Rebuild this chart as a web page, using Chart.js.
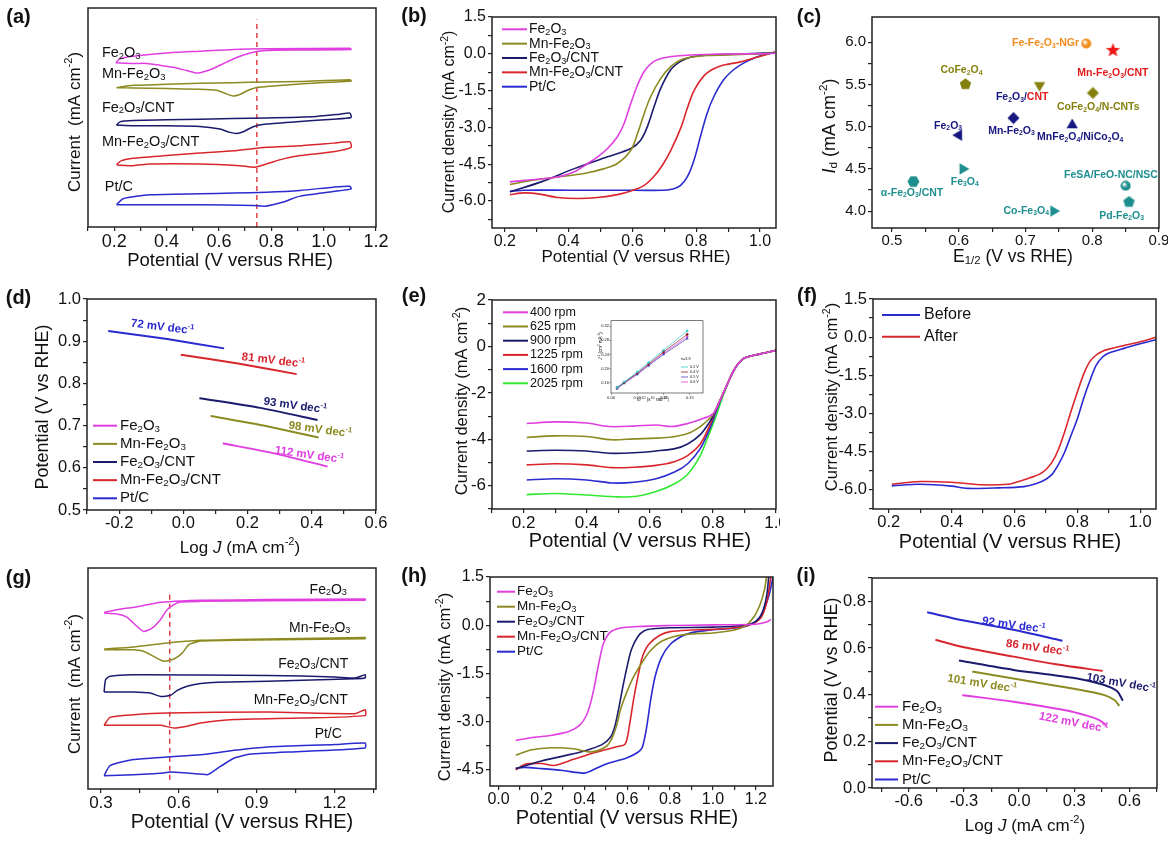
<!DOCTYPE html>
<html>
<head>
<meta charset="utf-8">
<script src="https://cdn.jsdelivr.net/npm/chart.js@4.4.1/dist/chart.umd.min.js"></script>
<style>
  html, body { margin: 0; background: #fff; }
  #fig { position: relative; width: 1168px; height: 841px; overflow: hidden; background: #fff; }
</style>
</head>
<body>
<div id="fig"></div>
<script>
// ---------- data ----------
const names5 = ['Fe_2O_3', 'Mn-Fe_2O_3', 'Fe_2O_3/CNT', 'Mn-Fe_2O_3/CNT', 'Pt/C'];

// (a) CV, arbitrary current units (no y ticks)
const aXTicks = [0.1, 0.2, 0.3, 0.4, 0.5, 0.6, 0.7, 0.8, 0.9, 1.0, 1.1, 1.2];
const aXLabels = ['', '0.2', '', '0.4', '', '0.6', '', '0.8', '', '1.0', '', '1.2'];
const a_Fe2O3 = [[0.206,75.0],[0.222,76.8],[0.273,78.0],[0.4,79.5],[0.527,80.3],[0.655,81.1],[0.782,81.4],[1.1,81.6],[1.105,81.0],[0.91,80.8],[0.782,80.6],[0.731,79.8],[0.68,78.0],[0.629,75.3],[0.578,72.4],[0.52,70.3],[0.476,71.5],[0.425,72.9],[0.374,73.9],[0.324,74.7],[0.273,74.7],[0.206,75.0]];
const a_MnFe2O3 = [[0.209,63.6],[0.273,64.7],[0.4,65.2],[0.527,65.6],[0.655,65.9],[0.782,66.2],[0.91,66.4],[1.1,67.2],[1.105,66.7],[0.91,65.3],[0.782,64.1],[0.74,63.6],[0.71,62.3],[0.68,60.5],[0.655,59.8],[0.629,60.8],[0.591,62.4],[0.527,62.9],[0.4,63.2],[0.273,63.5],[0.209,63.6]];
const a_Fe2O3CNT = [[0.209,46.5],[0.222,48.0],[0.273,48.6],[0.527,49.2],[0.782,49.8],[0.973,50.5],[1.062,51.5],[1.1,52.0],[1.105,50.0],[1.037,49.2],[0.91,48.2],[0.782,47.0],[0.731,45.8],[0.693,43.5],[0.667,42.7],[0.642,43.2],[0.604,44.7],[0.527,45.9],[0.4,46.2],[0.273,46.2],[0.209,46.5]];
const a_MnFe2O3CNT = [[0.209,28.5],[0.228,30.3],[0.273,31.4],[0.4,32.6],[0.527,33.8],[0.655,34.8],[0.782,36.4],[0.91,37.1],[1.037,38.3],[1.1,38.9],[1.105,36.4],[1.037,34.4],[0.91,32.6],[0.846,31.1],[0.782,28.8],[0.737,27.3],[0.68,28.0],[0.527,28.8],[0.336,28.8],[0.273,28.0],[0.209,28.3]];
const a_PtC = [[0.209,10.2],[0.234,12.9],[0.336,14.7],[0.527,15.2],[0.655,15.5],[0.782,15.9],[0.91,16.7],[1.037,18.2],[1.1,18.6],[1.105,17.4],[1.037,16.2],[0.91,14.1],[0.846,11.4],[0.776,9.5],[0.731,9.8],[0.527,10.2],[0.336,10.2],[0.209,10.2]];
const aPeak = 0.745;

// (b) LSV
const bXTicks = [0.2, 0.3, 0.4, 0.5, 0.6, 0.7, 0.8, 0.9, 1.0];
const bXLabels = ['0.2', '', '0.4', '', '0.6', '', '0.8', '', '1.0'];
const bYTicks = [1.5, 0.75, 0, -0.75, -1.5, -2.25, -3, -3.75, -4.5, -5.25, -6, -6.75];
const bYLabels = ['1.5', '', '0.0', '', '-1.5', '', '-3.0', '', '-4.5', '', '-6.0', ''];
const b_Fe2O3 = [[0.216,-5.22],[0.262,-5.16],[0.366,-5.02],[0.418,-4.81],[0.46,-4.47],[0.491,-4.2],[0.522,-3.86],[0.553,-3.38],[0.574,-2.84],[0.595,-2.02],[0.616,-1.27],[0.637,-0.72],[0.668,-0.31],[0.709,-0.14],[0.782,-0.05],[0.886,-0.01],[0.99,0.0],[1.047,0.02]];
const b_MnFe2O3 = [[0.216,-5.33],[0.283,-5.16],[0.366,-5.02],[0.449,-4.88],[0.512,-4.68],[0.553,-4.47],[0.595,-3.93],[0.616,-3.25],[0.637,-2.43],[0.657,-1.75],[0.689,-1.0],[0.72,-0.52],[0.751,-0.25],[0.782,-0.14],[0.834,-0.07],[0.938,-0.03],[1.047,0.03]];
const b_Fe2O3CNT = [[0.216,-5.63],[0.314,-5.22],[0.418,-4.68],[0.522,-4.2],[0.595,-3.86],[0.626,-3.52],[0.647,-2.97],[0.668,-2.15],[0.689,-1.4],[0.72,-0.65],[0.751,-0.31],[0.782,-0.14],[0.834,-0.05],[0.938,-0.01],[1.047,0.05]];
const b_MnFe2O3CNT = [[0.216,-5.74],[0.262,-5.67],[0.314,-5.73],[0.366,-5.86],[0.429,-5.9],[0.491,-5.86],[0.553,-5.74],[0.595,-5.59],[0.637,-5.36],[0.668,-4.99],[0.694,-4.54],[0.72,-3.95],[0.751,-3.04],[0.772,-2.22],[0.793,-1.5],[0.824,-0.9],[0.855,-0.61],[0.886,-0.46],[0.938,-0.33],[0.99,-0.14],[1.047,0.07]];
const b_PtC = [[0.216,-5.6],[0.262,-5.56],[0.4,-5.56],[0.55,-5.56],[0.699,-5.56],[0.73,-5.5],[0.751,-5.36],[0.772,-5.02],[0.793,-4.34],[0.813,-3.38],[0.834,-2.43],[0.855,-1.75],[0.886,-1.06],[0.917,-0.65],[0.948,-0.38],[0.98,-0.18],[1.011,-0.04],[1.047,0.05]];

// (c) comparison scatter
const cXTicks = [0.5, 0.55, 0.6, 0.65, 0.7, 0.75, 0.8, 0.85, 0.9];
const cXLabels = ['0.5', '', '0.6', '', '0.7', '', '0.8', '', '0.9'];
const cYTicks = [4.0, 4.25, 4.5, 4.75, 5.0, 5.25, 5.5, 5.75, 6.0];
const cYLabels = ['4.0', '', '4.5', '', '5.0', '', '5.5', '', '6.0'];
const cNames = ['Fe-Fe_2O_3-NGr', 'Mn-Fe_2O_3/CNT', 'CoFe_2O_4', 'Fe_2O_3/CNT', 'CoFe_2O_4/N-CNTs', 'Mn-Fe_2O_3', 'Fe_2O_3', 'MnFe_2O_4/NiCo_2O_4', 'Fe_3O_4', 'α-Fe_2O_3/CNT', 'FeSA/FeO-NC/NSC', 'Pd-Fe_2O_3', 'Co-Fe_3O_4'];
const cE12 = [0.791, 0.831, 0.61, 0.721, 0.801, 0.682, 0.60, 0.77, 0.606, 0.532, 0.85, 0.855, 0.742];
const cId = [5.985, 5.905, 5.503, 5.49, 5.40, 5.103, 4.90, 5.02, 4.50, 4.35, 4.30, 4.108, 4.00];

// (d) Tafel
const dXTicks = [-0.3, -0.2, -0.1, 0, 0.1, 0.2, 0.3, 0.4, 0.5, 0.6];
const dXLabels = ['', '-0.2', '', '0.0', '', '0.2', '', '0.4', '', '0.6'];
const dYTicks = [0.5, 0.55, 0.6, 0.65, 0.7, 0.75, 0.8, 0.85, 0.9, 0.95, 1.0];
const dYLabels = ['0.5', '', '0.6', '', '0.7', '', '0.8', '', '0.9', '', '1.0'];
const d_Fe2O3 = [[0.123,0.658],[0.29,0.633],[0.449,0.603]];
const d_MnFe2O3 = [[0.085,0.723],[0.25,0.7],[0.421,0.672]];
const d_Fe2O3CNT = [[0.05,0.765],[0.24,0.742],[0.418,0.713]];
const d_MnFe2O3CNT = [[-0.008,0.868],[0.17,0.847],[0.353,0.822]];
const d_PtC = [[-0.234,0.924],[-0.05,0.905],[0.127,0.883]];
const dTafel = [112, 98, 93, 81, 72];

// (e) rotating speeds
const eXTicks = [0.1, 0.2, 0.3, 0.4, 0.5, 0.6, 0.7, 0.8, 0.9, 1.0];
const eXLabels = ['', '0.2', '', '0.4', '', '0.6', '', '0.8', '', '1.0'];
const eYTicks = [-7, -6, -5, -4, -3, -2, -1, 0, 1, 2];
const eYLabels = ['', '-6', '', '-4', '', '-2', '', '0', '', '2'];
const eSpeeds = ['400 rpm', '625 rpm', '900 rpm', '1225 rpm', '1600 rpm', '2025 rpm'];
const e_400 = [[0.21,-3.32],[0.3,-3.25],[0.4,-3.3],[0.47,-3.45],[0.55,-3.43],[0.62,-3.38],[0.67,-3.45],[0.72,-3.32],[0.76,-3.15],[0.8,-2.9],[0.82,-2.4],[0.84,-1.8],[0.86,-1.2],[0.88,-0.75],[0.9,-0.5],[0.95,-0.32],[1.0,-0.17]];
const e_625 = [[0.21,-3.92],[0.3,-3.85],[0.4,-3.88],[0.48,-4.02],[0.55,-3.98],[0.62,-3.95],[0.67,-3.9],[0.72,-3.75],[0.76,-3.45],[0.79,-3.1],[0.8,-2.95],[0.82,-2.4],[0.84,-1.8],[0.86,-1.2],[0.88,-0.75],[0.9,-0.5],[0.95,-0.32],[1.0,-0.17]];
const e_900 = [[0.21,-4.5],[0.3,-4.47],[0.4,-4.5],[0.47,-4.6],[0.55,-4.58],[0.62,-4.5],[0.68,-4.4],[0.72,-4.2],[0.76,-3.8],[0.79,-3.25],[0.8,-3.0],[0.82,-2.4],[0.84,-1.8],[0.86,-1.2],[0.88,-0.75],[0.9,-0.5],[0.95,-0.32],[1.0,-0.17]];
const e_1225 = [[0.21,-5.1],[0.3,-5.05],[0.4,-5.1],[0.48,-5.22],[0.55,-5.2],[0.62,-5.12],[0.68,-4.95],[0.72,-4.7],[0.76,-4.2],[0.79,-3.4],[0.8,-3.05],[0.82,-2.4],[0.84,-1.8],[0.86,-1.2],[0.88,-0.75],[0.9,-0.5],[0.95,-0.32],[1.0,-0.17]];
const e_1600 = [[0.21,-5.75],[0.3,-5.7],[0.4,-5.75],[0.48,-5.88],[0.55,-5.85],[0.62,-5.7],[0.68,-5.4],[0.72,-5.05],[0.76,-4.4],[0.79,-3.55],[0.805,-3.0],[0.82,-2.45],[0.84,-1.8],[0.86,-1.2],[0.88,-0.75],[0.9,-0.5],[0.95,-0.32],[1.0,-0.17]];
const e_2025 = [[0.21,-6.38],[0.3,-6.33],[0.4,-6.4],[0.5,-6.48],[0.56,-6.45],[0.62,-6.25],[0.68,-5.9],[0.72,-5.5],[0.76,-4.7],[0.79,-3.7],[0.81,-3.0],[0.825,-2.4],[0.84,-1.85],[0.86,-1.2],[0.88,-0.75],[0.9,-0.5],[0.95,-0.32],[1.0,-0.17]];
// (e) inset: Koutecky-Levich
const insX = [0.067, 0.075, 0.09, 0.103, 0.12, 0.147];
const ins_02 = [0.146, 0.162, 0.19, 0.217, 0.252, 0.307];
const ins_04 = [0.146, 0.16, 0.187, 0.213, 0.247, 0.297];
const ins_05 = [0.142, 0.158, 0.183, 0.208, 0.24, 0.285];
const ins_06 = [0.144, 0.159, 0.185, 0.21, 0.243, 0.29];
const insNames = ['0.2 V', '0.4 V', '0.5 V', '0.6 V'];

// (f) stability
const fYTicks = [1.5, 0.75, 0, -0.75, -1.5, -2.25, -3, -3.75, -4.5, -5.25, -6, -6.75];
const f_before = [[0.21,-5.84],[0.3,-5.78],[0.4,-5.85],[0.45,-5.94],[0.55,-5.92],[0.63,-5.87],[0.67,-5.75],[0.7,-5.58],[0.72,-5.38],[0.74,-5.0],[0.76,-4.5],[0.78,-3.85],[0.8,-3.2],[0.82,-2.4],[0.84,-1.7],[0.86,-1.1],[0.88,-0.78],[0.9,-0.62],[0.95,-0.43],[1.0,-0.26],[1.05,-0.1]];
const f_after = [[0.21,-5.78],[0.3,-5.67],[0.4,-5.7],[0.5,-5.8],[0.58,-5.78],[0.6,-5.72],[0.65,-5.52],[0.68,-5.38],[0.7,-5.2],[0.72,-4.9],[0.74,-4.4],[0.76,-3.7],[0.78,-2.9],[0.8,-2.15],[0.82,-1.45],[0.84,-0.95],[0.86,-0.7],[0.88,-0.55],[0.9,-0.47],[0.95,-0.32],[1.0,-0.18],[1.05,0.0]];

// (g) CV, second electrolyte
const gXTicks = [0.3, 0.45, 0.6, 0.75, 0.9, 1.05, 1.2, 1.35];
const gXLabels = ['0.3', '', '0.6', '', '0.9', '', '1.2', ''];
const g_Fe2O3 = [[0.312,79.9],[0.361,81.1],[0.451,82.7],[0.529,84.5],[0.581,84.9],[0.684,85.4],[0.943,85.7],[1.318,86.0],[1.318,85.4],[0.943,85.2],[0.684,84.9],[0.606,84.6],[0.581,83.4],[0.555,81.1],[0.529,76.6],[0.497,72.8],[0.464,71.3],[0.425,75.1],[0.4,77.8],[0.361,79.2],[0.312,79.6]];
const g_MnFe2O3 = [[0.312,63.3],[0.425,64.3],[0.555,66.1],[0.684,67.3],[0.814,67.6],[1.318,68.6],[1.318,68.0],[0.814,67.3],[0.684,67.0],[0.671,66.6],[0.639,65.3],[0.613,61.5],[0.581,58.8],[0.542,57.8],[0.503,60.0],[0.464,62.3],[0.425,63.0],[0.312,63.0]];
const g_Fe2O3CNT = [[0.312,43.9],[0.318,49.5],[0.335,51.0],[0.425,51.7],[0.684,51.6],[0.943,51.4],[1.202,50.7],[1.28,50.2],[1.318,51.7],[1.318,50.2],[1.28,49.9],[0.943,48.7],[0.749,48.3],[0.684,47.7],[0.632,46.5],[0.594,44.6],[0.568,42.4],[0.529,41.9],[0.49,43.4],[0.425,43.9],[0.312,43.9]];
const g_MnFe2O3CNT = [[0.312,28.8],[0.335,32.4],[0.425,33.6],[0.555,34.4],[0.943,34.8],[1.28,34.1],[1.318,35.9],[1.318,33.2],[1.072,32.1],[0.814,31.4],[0.684,29.9],[0.632,28.4],[0.581,27.6],[0.529,28.8],[0.425,28.8],[0.312,28.8]];
const g_PtC = [[0.312,6.0],[0.335,10.6],[0.425,13.3],[0.555,14.5],[0.684,15.5],[0.814,17.5],[0.943,19.0],[1.202,20.1],[1.318,20.8],[1.318,18.6],[1.072,17.0],[0.878,15.8],[0.814,14.0],[0.762,10.3],[0.723,7.2],[0.71,6.5],[0.632,7.2],[0.568,7.7],[0.529,7.1],[0.425,6.5],[0.312,6.0]];
const gPeak = 0.565;

// (h) LSV incl. OER onset
const hXTicks = [0, 0.1, 0.2, 0.3, 0.4, 0.5, 0.6, 0.7, 0.8, 0.9, 1.0, 1.1, 1.2];
const hXLabels = ['0.0', '', '0.2', '', '0.4', '', '0.6', '', '0.8', '', '1.0', '', '1.2'];
const hYTicks = [1.5, 0.75, 0, -0.75, -1.5, -2.25, -3, -3.75, -4.5];
const hYLabels = ['1.5', '', '0.0', '', '-1.5', '', '-3.0', '', '-4.5'];
const h_Fe2O3 = [[0.08,-3.58],[0.15,-3.5],[0.25,-3.42],[0.33,-3.3],[0.38,-3.1],[0.41,-2.8],[0.43,-2.4],[0.45,-1.8],[0.47,-1.1],[0.49,-0.55],[0.52,-0.22],[0.56,-0.1],[0.65,-0.04],[0.8,-0.01],[1.0,0.01],[1.2,0.03],[1.25,0.1],[1.27,0.18]];
const h_MnFe2O3 = [[0.08,-4.04],[0.15,-3.88],[0.25,-3.81],[0.35,-3.84],[0.43,-3.94],[0.5,-3.78],[0.53,-3.5],[0.55,-3.13],[0.57,-2.6],[0.6,-2.05],[0.63,-1.6],[0.67,-1.15],[0.71,-0.78],[0.76,-0.5],[0.82,-0.35],[0.9,-0.27],[1.0,-0.24],[1.1,-0.15],[1.15,-0.02],[1.19,0.25],[1.22,0.65],[1.24,1.1],[1.25,1.5]];
const h_Fe2O3CNT = [[0.08,-4.46],[0.2,-4.22],[0.3,-4.07],[0.4,-3.91],[0.48,-3.72],[0.52,-3.5],[0.54,-3.2],[0.56,-2.6],[0.58,-1.9],[0.6,-1.27],[0.62,-0.75],[0.65,-0.35],[0.68,-0.17],[0.72,-0.11],[0.8,-0.08],[1.0,-0.06],[1.15,0.0],[1.2,0.12],[1.23,0.4],[1.25,0.9],[1.26,1.5]];
const h_MnFe2O3CNT = [[0.08,-4.5],[0.12,-4.33],[0.2,-4.3],[0.26,-4.36],[0.35,-4.17],[0.45,-3.96],[0.55,-3.78],[0.59,-3.7],[0.61,-3.13],[0.63,-2.3],[0.65,-1.6],[0.67,-1.0],[0.7,-0.6],[0.75,-0.32],[0.8,-0.2],[0.9,-0.15],[1.0,-0.13],[1.15,-0.03],[1.22,0.2],[1.25,0.7],[1.27,1.5]];
const h_PtC = [[0.08,-4.45],[0.12,-4.42],[0.2,-4.46],[0.3,-4.52],[0.4,-4.6],[0.43,-4.53],[0.5,-4.32],[0.6,-4.12],[0.65,-3.95],[0.67,-3.8],[0.69,-3.2],[0.71,-2.3],[0.73,-1.6],[0.76,-1.0],[0.8,-0.6],[0.85,-0.36],[0.9,-0.23],[1.0,-0.14],[1.15,-0.04],[1.22,0.25],[1.26,0.9],[1.28,1.5]];

// (i) Tafel
const iXTicks = [-0.75, -0.6, -0.45, -0.3, -0.15, 0, 0.15, 0.3, 0.45, 0.6, 0.75];
const iXLabels = ['', '-0.6', '', '-0.3', '', '0.0', '', '0.3', '', '0.6', ''];
const iYTicks = [0, 0.1, 0.2, 0.3, 0.4, 0.5, 0.6, 0.7, 0.8, 0.9];
const iYLabels = ['0.0', '', '0.2', '', '0.4', '', '0.6', '', '0.8', ''];
const i_Fe2O3 = [[-0.309,0.398],[-0.03,0.37],[0.245,0.334],[0.373,0.309],[0.436,0.291],[0.473,0.269]];
const i_MnFe2O3 = [[-0.255,0.499],[0.064,0.456],[0.336,0.42],[0.464,0.398],[0.518,0.377],[0.545,0.352]];
const i_Fe2O3CNT = [[-0.327,0.546],[-0.03,0.506],[0.2,0.482],[0.336,0.466],[0.45,0.445],[0.5,0.43],[0.536,0.413],[0.564,0.374]];
const i_MnFe2O3CNT = [[-0.455,0.635],[-0.3,0.603],[-0.03,0.563],[0.2,0.53],[0.455,0.502]];
const i_PtC = [[-0.5,0.753],[-0.3,0.718],[-0.03,0.678],[0.236,0.631]];
const iTafel = [122, 101, 103, 86, 92];

// ---------- styling ----------
const FONT = '"Liberation Sans", Arial, Helvetica, sans-serif';
const MAG = '#e03ee0', OLV = '#8c8a20', NAV = '#1b1b6e', RED = '#d9262c', BLU = '#2a2ad0', GRN = '#30e830';
const C5 = [MAG, OLV, NAV, RED, BLU];
const TEAL = '#1e8e8e', OLVC = '#85810f', NAVC = '#17177f';

// tiny rich-text: _2 / _{..} subscript, ^{..} superscript, ~{..} italic
function parseRich(s) {
  const out = [], re = /_\{([^}]*)\}|\^\{([^}]*)\}|~\{([^}]*)\}|_(\d)|\^(\d)/g;
  let last = 0, m;
  while ((m = re.exec(s))) {
    if (m.index > last) out.push({ t: s.slice(last, m.index), m: 'n' });
    if (m[1] !== undefined) out.push({ t: m[1], m: 'sub' });
    else if (m[2] !== undefined) out.push({ t: m[2], m: 'sup' });
    else if (m[3] !== undefined) out.push({ t: m[3], m: 'it' });
    else if (m[4] !== undefined) out.push({ t: m[4], m: 'sub' });
    else out.push({ t: m[5], m: 'sup' });
    last = re.lastIndex;
  }
  if (last < s.length) out.push({ t: s.slice(last), m: 'n' });
  return out;
}
function fontFor(p, size, weight) {
  const small = p.m === 'sub' || p.m === 'sup';
  return (p.m === 'it' ? 'italic ' : '') + weight + ' ' + (small ? size * 0.65 : size) + 'px ' + FONT;
}
function richWidth(ctx, s, size, weight) {
  let w = 0;
  for (const p of parseRich(s)) { ctx.font = fontFor(p, size, weight); w += ctx.measureText(p.t).width; }
  return w;
}
function drawRich(ctx, s, x, y, o) {
  const size = o.size || 16, weight = o.weight || 'normal';
  ctx.save();
  ctx.translate(x, y);
  if (o.rot) ctx.rotate(o.rot * Math.PI / 180);
  const w = richWidth(ctx, s, size, weight);
  let cx = o.align === 'left' ? 0 : o.align === 'right' ? -w : -w / 2;
  ctx.textBaseline = 'middle';
  ctx.textAlign = 'left';
  ctx.fillStyle = o.color || '#111';
  for (const p of parseRich(s)) {
    ctx.font = fontFor(p, size, weight);
    const dy = p.m === 'sub' ? size * 0.22 : p.m === 'sup' ? -size * 0.33 : 0;
    ctx.fillText(p.t, cx, dy);
    cx += ctx.measureText(p.t).width;
  }
  ctx.restore();
  return w;
}

// filled marker shapes for panel (c)
function marker(kind, color, size) {
  const c = document.createElement('canvas');
  c.width = c.height = size;
  const g = c.getContext('2d'), r = size / 2;
  g.beginPath();
  if (kind === 'sphere') {
    const grd = g.createRadialGradient(r * 0.7, r * 0.7, 0.5, r, r, r);
    grd.addColorStop(0, '#ffffff');
    grd.addColorStop(0.5, color);
    grd.addColorStop(1, color);
    g.fillStyle = grd;
    g.arc(r, r, r - 0.5, 0, Math.PI * 2);
  } else if (kind === 'star') {
    for (let i = 0; i < 10; i++) {
      const rr = i % 2 ? r * 0.42 : r, a = -Math.PI / 2 + i * Math.PI / 5;
      g.lineTo(r + rr * Math.cos(a), r + rr * Math.sin(a));
    }
    g.fillStyle = color;
  } else {
    const [n, a0] = { pent: [5, -90], hex: [6, 0], diamond: [4, -90], up: [3, -90], down: [3, 90], left: [3, 180], right: [3, 0] }[kind];
    for (let i = 0; i < n; i++) {
      const a = (a0 + i * 360 / n) * Math.PI / 180;
      g.lineTo(r + (r - 0.5) * Math.cos(a), r + (r - 0.5) * Math.sin(a));
    }
    g.fillStyle = color;
  }
  g.closePath();
  g.fill();
  return c;
}

function line(pts, color, extra) {
  return Object.assign({
    data: pts.map(([x, y]) => ({ x, y })),
    borderColor: color, backgroundColor: color,
    borderWidth: 1.6, pointRadius: 0, tension: 0.3, fill: false
  }, extra || {});
}
const xy = (xs, ys) => xs.map((x, i) => [x, ys[i]]);

function axisOpts(dir, a, size, p) {
  return {
    type: 'linear', min: a.min, max: a.max,
    afterBuildTicks: s => { s.ticks = a.ticks.map(v => ({ value: v })); },
    afterFit: s => {
      if (dir === 'x') s.height = size; else s.width = size;
      s.paddingLeft = s.paddingRight = s.paddingTop = s.paddingBottom = 0;
    },
    ticks: {
      display: !!a.labels, autoSkip: false, maxRotation: 0, minRotation: 0,
      padding: dir === 'x' ? (p.xPad ?? 0) : (p.yPad ?? 2),
      color: '#111', font: { family: FONT, size: p.tickFont || 16 },
      callback: (v, i) => a.labels ? a.labels[i] : ''
    },
    grid: {
      display: a.ticks.length > 0, drawOnChartArea: false, drawTicks: true,
      tickLength: p.tickLen || 4, color: '#222', lineWidth: p.tickW || 1.2
    },
    border: { display: false }
  };
}

function decorate(ch, p) {
  const ctx = ch.ctx, ca = ch.chartArea, ox = p.rect[0], oy = p.rect[1];
  const sx = ch.scales.x, sy = ch.scales.y;
  ctx.save();
  ctx.strokeStyle = '#222';
  ctx.lineWidth = p.frameW || 1.5;
  ctx.strokeRect(ca.left, ca.top, ca.right - ca.left, ca.bottom - ca.top);
  if (p.letter) drawRich(ctx, p.letter[0], p.letter[1] - ox, p.letter[2] - oy, { size: 20, weight: 'bold' });
  if (p.xTitle) drawRich(ctx, p.xTitle[0], p.xTitle[1] - ox, p.xTitle[2] - oy, { size: p.xTitle[3] });
  if (p.yTitle) drawRich(ctx, p.yTitle[0], p.yTitle[1] - ox, p.yTitle[2] - oy, { size: p.yTitle[3], rot: -90 });
  const lg = p.legend;
  if (lg) {
    if (lg.head) drawRich(ctx, lg.head, lg.x0 - ox, lg.y0 - lg.dy * 1.6 - oy, { size: lg.size, align: 'left' });
    lg.names.forEach((nm, i) => {
      const y = lg.y0 + i * lg.dy - oy;
      ctx.strokeStyle = lg.colors[i];
      ctx.lineWidth = lg.lw || 2;
      ctx.beginPath(); ctx.moveTo(lg.x0 - ox, y); ctx.lineTo(lg.x1 - ox, y); ctx.stroke();
      drawRich(ctx, nm, lg.tx - ox, y, { size: lg.size, align: 'left' });
    });
  }
  (p.notes || []).forEach(n => {
    const px = sx.getPixelForValue(n.x), py = sy.getPixelForValue(n.y);
    const o = { size: n.size, weight: n.weight || 'normal', rot: n.rot || 0 };
    if (n.parts) {
      let w = 0;
      n.parts.forEach(([t]) => { w += richWidth(ctx, t, n.size, o.weight); });
      let cx = px - w / 2;
      n.parts.forEach(([t, c]) => { cx += drawRich(ctx, t, cx, py, Object.assign({}, o, { color: c, align: 'left' })); });
    } else {
      drawRich(ctx, n.t, px, py, Object.assign(o, { color: n.color, align: n.align || 'center' }));
    }
  });
  ctx.restore();
}

function makePanel(p) {
  const cv = document.createElement('canvas');
  const [L, T, W, H] = p.rect;
  cv.width = W; cv.height = H;
  cv.style.cssText = 'position:absolute;left:' + L + 'px;top:' + T + 'px;width:' + W + 'px;height:' + H + 'px';
  document.getElementById('fig').appendChild(cv);
  const [x0, y0, x1, y1] = p.box;
  return new Chart(cv.getContext('2d'), {
    type: 'line',
    data: { datasets: p.datasets },
    options: {
      responsive: false, animation: false, devicePixelRatio: 1, events: [],
      layout: { padding: { left: 0, top: y0 - T, right: L + W - x1, bottom: 0 } },
      plugins: { legend: { display: false }, tooltip: { enabled: false } },
      scales: {
        x: axisOpts('x', p.x, T + H - y1, p),
        y: axisOpts('y', p.y, x0 - L, p)
      }
    },
    plugins: [{ id: 'deco', afterDraw: ch => decorate(ch, p) }]
  });
}

const cv = { tension: 0.2, borderWidth: 1.5 };
const dash = { tension: 0, borderWidth: 1.3, borderDash: [5, 4] };

// (a)
makePanel({
  rect: [0, 0, 390, 280], box: [88, 8, 376, 227], tickFont: 18,
  x: { min: 0.1, max: 1.2, ticks: aXTicks, labels: aXLabels },
  y: { min: 0, max: 100, ticks: [] },
  datasets: [
    line(a_Fe2O3, MAG, cv), line(a_MnFe2O3, OLV, cv), line(a_Fe2O3CNT, NAV, cv),
    line(a_MnFe2O3CNT, RED, cv), line(a_PtC, BLU, cv),
    line([[aPeak, 0], [aPeak, 94.7]], RED, dash)
  ],
  letter: ['(a)', 18.5, 17],
  xTitle: ['Potential (V versus RHE)', 230, 261, 18.5],
  yTitle: ['Current  (mA cm^{-2})', 75, 122, 17],
  notes: [[0.153, 79.5], [0.153, 69.7], [0.153, 54.5], [0.153, 38.6], [0.164, 18.2]]
    .map(([x, y], i) => ({ t: names5[i], x, y, size: 14.5, align: 'left', color: '#111' }))
});

// (b)
makePanel({
  rect: [390, 0, 390, 280], box: [492, 17, 776, 228], tickFont: 16,
  x: { min: 0.16, max: 1.05, ticks: bXTicks, labels: bXLabels },
  y: { min: -7.1, max: 1.5, ticks: bYTicks, labels: bYLabels },
  datasets: [line(b_Fe2O3, MAG), line(b_MnFe2O3, OLV), line(b_Fe2O3CNT, NAV), line(b_MnFe2O3CNT, RED), line(b_PtC, BLU)],
  letter: ['(b)', 414, 16],
  xTitle: ['Potential (V versus RHE)', 636, 257, 17],
  yTitle: ['Current density (mA cm^{-2})', 450, 122, 16],
  legend: { names: names5, colors: C5, x0: 502, x1: 527, tx: 529, y0: 29.3, dy: 14.35, size: 14 }
});

// (c)
const cMarkers = [['sphere', '#f0901e', 11], ['star', '#ee1818', 15], ['pent', OLVC, 13], ['down', OLVC, 14], ['diamond', OLVC, 13],
  ['diamond', NAVC, 13], ['left', NAVC, 14], ['up', NAVC, 14], ['right', TEAL, 14], ['hex', TEAL, 13], ['sphere', TEAL, 11], ['pent', TEAL, 13], ['right', TEAL, 14]];
const cLabelAt = [[0.73, 5.985], [0.831, 5.63], [0.604, 5.668], [0.695, 5.345], [0.809, 5.227], [0.679, 4.95], [0.584, 5.005],
  [0.782, 4.871], [0.609, 4.345], [0.53, 4.215], [0.828, 4.424], [0.844, 3.939], [0.701, 3.998]];
const cLabelColor = ['#f08a1c', '#e3191c', OLVC, null, OLVC, NAVC, NAVC, NAVC, TEAL, TEAL, TEAL, TEAL, TEAL];
makePanel({
  rect: [780, 0, 388, 280], box: [872, 17, 1159, 228], tickFont: 15,
  x: { min: 0.47, max: 0.9, ticks: cXTicks, labels: cXLabels },
  y: { min: 3.8, max: 6.3, ticks: cYTicks, labels: cYLabels },
  datasets: [{
    data: xy(cE12, cId).map(([x, y]) => ({ x, y })), showLine: false, borderWidth: 0, pointRadius: 7,
    pointStyle: cMarkers.map(([k, c, s]) => marker(k, c, s))
  }],
  letter: ['(c)', 809, 17],
  xTitle: ['E_{1/2} (V vs RHE)', 1013, 257, 17.5],
  yTitle: ['~{I}_{d} (mA cm^{-2})', 830, 126, 18],
  notes: cNames.map((t, i) => i === 3
    ? { parts: [['Fe_2O_3/', NAVC], ['CNT', '#e3191c']], x: cLabelAt[i][0], y: cLabelAt[i][1], size: 10.5, weight: 'bold' }
    : { t, x: cLabelAt[i][0], y: cLabelAt[i][1], size: 10.5, weight: 'bold', color: cLabelColor[i] })
});

// (d)
const dLabelAt = [[0.392, 0.63, 8], [0.426, 0.69, 8], [0.348, 0.747, 8], [0.28, 0.854, 7], [-0.065, 0.933, 7]];
makePanel({
  rect: [0, 280, 390, 280], box: [87, 299, 376, 510], tickFont: 16.5,
  x: { min: -0.3, max: 0.6, ticks: dXTicks, labels: dXLabels },
  y: { min: 0.5, max: 1.0, ticks: dYTicks, labels: dYLabels },
  datasets: [line(d_Fe2O3, MAG, { tension: 0.2, borderWidth: 2 }), line(d_MnFe2O3, OLV, { tension: 0.2, borderWidth: 2 }),
    line(d_Fe2O3CNT, NAV, { tension: 0.2, borderWidth: 2 }), line(d_MnFe2O3CNT, RED, { tension: 0.2, borderWidth: 2 }),
    line(d_PtC, BLU, { tension: 0.2, borderWidth: 2 })],
  letter: ['(d)', 18.5, 298],
  xTitle: ['Log ~{J} (mA cm^{-2})', 240, 548, 17],
  yTitle: ['Potential (V vs RHE)', 43, 407, 18],
  legend: { names: names5, colors: C5, x0: 93, x1: 117, tx: 120, y0: 425.7, dy: 18.15, size: 15 },
  notes: dTafel.map((v, i) => ({ t: v + ' mV dec^{-1}', x: dLabelAt[i][0], y: dLabelAt[i][1], rot: dLabelAt[i][2], size: 11.5, weight: 'bold', color: C5[i] }))
});

// (e)
makePanel({
  rect: [390, 280, 390, 280], box: [492, 300, 776, 509], tickFont: 17,
  x: { min: 0.1, max: 1.0, ticks: eXTicks, labels: eXLabels },
  y: { min: -7, max: 2, ticks: eYTicks, labels: eYLabels },
  datasets: [line(e_400, MAG), line(e_625, OLV), line(e_900, NAV), line(e_1225, RED), line(e_1600, BLU), line(e_2025, GRN)],
  letter: ['(e)', 414, 296],
  xTitle: ['Potential (V versus RHE)', 640, 541, 20],
  yTitle: ['Current density (mA cm^{-2})', 462, 401, 16.5],
  legend: { names: eSpeeds, colors: [MAG, OLV, NAV, RED, BLU, GRN], x0: 503, x1: 528, tx: 530, y0: 312.3, dy: 14.2, size: 12.5 }
});
// (e) inset
const insColors = ['#33cccc', '#8e1f2a', '#4646b4', '#d843d8'];
makePanel({
  rect: [596, 316, 114, 88], box: [611, 319, 703, 393], tickFont: 4, tickLen: 1.5, tickW: 0.5, frameW: 0.6, xPad: 0.5, yPad: 0.5,
  x: { min: 0.06, max: 0.165, ticks: [0.06, 0.09, 0.12, 0.15], labels: ['0.06', '0.09', '0.12', '0.15'] },
  y: { min: 0.13, max: 0.336, ticks: [0.16, 0.2, 0.24, 0.28, 0.32], labels: ['0.16', '0.20', '0.24', '0.28', '0.32'] },
  datasets: [ins_02, ins_04, ins_05, ins_06].map((ys, i) => line(xy(insX, ys), insColors[i],
    { tension: 0, borderWidth: 0.7, pointRadius: 1.1, pointStyle: ['rect', 'circle', 'triangle', 'rectRot'][i] })),
  xTitle: ['ω^{-1/2} (s^{1/2} rad^{-1/2})', 653, 399.5, 4.5],
  yTitle: ['~{J}^{-1} (cm^2 mA^{-1})', 601, 346, 4.5],
  legend: { head: 'n=3.9', names: insNames, colors: insColors, x0: 681, x1: 688, tx: 690, y0: 367, dy: 5, size: 3.8, lw: 0.8 }
});

// (f)
makePanel({
  rect: [780, 280, 388, 280], box: [873, 299, 1156, 509], tickFont: 16.5,
  x: { min: 0.15, max: 1.05, ticks: bXTicks, labels: bXLabels },
  y: { min: -6.75, max: 1.5, ticks: fYTicks, labels: bYLabels },
  datasets: [line(f_before, BLU), line(f_after, RED)],
  letter: ['(f)', 807, 296],
  xTitle: ['Potential (V versus RHE)', 1010, 542, 20],
  yTitle: ['Current density (mA cm^{-2})', 832, 397, 16.5],
  legend: { names: ['Before', 'After'], colors: [BLU, RED], x0: 882, x1: 920, tx: 924, y0: 315, dy: 21.7, size: 16 }
});

// (g)
makePanel({
  rect: [0, 560, 390, 281], box: [88, 568, 376, 789], tickFont: 17,
  x: { min: 0.25, max: 1.36, ticks: gXTicks, labels: gXLabels },
  y: { min: 0, max: 100, ticks: [] },
  datasets: [
    line(g_Fe2O3, MAG, cv), line(g_MnFe2O3, OLV, cv), line(g_Fe2O3CNT, NAV, cv),
    line(g_MnFe2O3CNT, RED, cv), line(g_PtC, BLU, cv),
    line([[gPeak, 4.2], [gPeak, 89.4]], RED, dash)
  ],
  letter: ['(g)', 18.5, 578],
  xTitle: ['Potential (V versus RHE)', 242, 822, 20],
  yTitle: ['Current  (mA cm^{-2})', 75, 684, 17],
  notes: [[1.176, 90.2], [1.143, 72.9], [1.118, 56.7], [1.07, 40.1], [1.176, 24.6]]
    .map(([x, y], i) => ({ t: names5[i], x, y, size: 14, color: '#111' }))
});

// (h)
makePanel({
  rect: [390, 560, 390, 281], box: [490, 577, 773, 786], tickFont: 16,
  x: { min: -0.04, max: 1.28, ticks: hXTicks, labels: hXLabels },
  y: { min: -5, max: 1.5, ticks: hYTicks, labels: hYLabels },
  datasets: [line(h_Fe2O3, MAG), line(h_MnFe2O3, OLV), line(h_Fe2O3CNT, NAV), line(h_MnFe2O3CNT, RED), line(h_PtC, BLU)],
  letter: ['(h)', 414, 576],
  xTitle: ['Potential (V versus RHE)', 627, 818, 20],
  yTitle: ['Current density (mA cm^{-2})', 445, 687, 16.5],
  legend: { names: names5, colors: C5, x0: 497, x1: 515, tx: 517, y0: 591.7, dy: 15, size: 13.5 }
});

// (i)
const iLabelAt = [[0.296, 0.279, 11], [-0.202, 0.446, 9], [0.554, 0.449, 10], [0.1, 0.6, 8], [-0.03, 0.697, 8]];
makePanel({
  rect: [780, 560, 388, 281], box: [872, 578, 1157, 788], tickFont: 16.5,
  x: { min: -0.8, max: 0.75, ticks: iXTicks, labels: iXLabels },
  y: { min: 0, max: 0.9, ticks: iYTicks, labels: iYLabels },
  datasets: [line(i_Fe2O3, MAG, { borderWidth: 2 }), line(i_MnFe2O3, OLV, { borderWidth: 2 }), line(i_Fe2O3CNT, NAV, { borderWidth: 2 }),
    line(i_MnFe2O3CNT, RED, { borderWidth: 2 }), line(i_PtC, BLU, { borderWidth: 2 })],
  letter: ['(i)', 806, 576],
  xTitle: ['Log ~{J} (mA cm^{-2})', 1025, 826, 17],
  yTitle: ['Potential (V vs RHE)', 832, 680, 18],
  legend: { names: names5, colors: C5, x0: 875, x1: 898, tx: 902, y0: 706.7, dy: 18.2, size: 15 },
  notes: iTafel.map((v, i) => ({ t: v + ' mV dec^{-1}', x: iLabelAt[i][0], y: iLabelAt[i][1], rot: iLabelAt[i][2], size: 11.5, weight: 'bold', color: C5[i] }))
});
</script>
</body>
</html>
